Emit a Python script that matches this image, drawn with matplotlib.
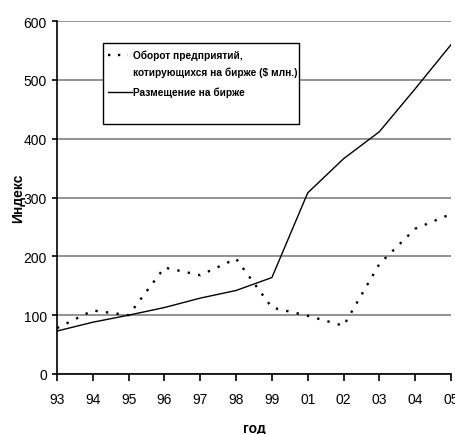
import matplotlib.pyplot as plt
from matplotlib.lines import Line2D
from matplotlib.patches import Rectangle

# Годы и индексы
years = ['93', '94', '95', '96', '97', '98', '99', '01', '02', '03', '04', '05']
turnover = [78, 108, 100, 181, 168, 196, 113, 99, 82, 187, 247, 272]
listing = [73, 88, 100, 113, 129, 142, 164, 308, 366, 412, 485, 560]

label_turnover = 'Оборот предприятий,\nкотирующихся на бирже ($ млн.)'
label_listing = 'Размещение на бирже'

plt.rcParams['font.family'] = ['Liberation Sans', 'DejaVu Sans']

fig = plt.figure(figsize=(4.56, 4.35), dpi=100)
ax = fig.add_axes([0.125, 0.138, 0.864, 0.811])

dotted = (0, (1, 3.5))
x = list(range(len(years)))
ax.plot(x, turnover, color='black', linestyle=dotted, linewidth=1.7, zorder=3)
ax.plot(x, listing, color='black', linestyle='-', linewidth=1.0, zorder=3)

ax.set_xlim(0, len(years) - 1)
ax.set_ylim(0, 600)
ax.set_xticks(x)
ax.set_xticklabels(years, fontsize=10)
ax.set_yticks(range(0, 601, 100))
ax.tick_params(axis='y', labelsize=10, length=3.6, width=1.2, pad=3.6)
ax.tick_params(axis='x', length=5, width=1.2, pad=8)

ax.grid(axis='y', color='#808080', linewidth=1.2)
ax.set_axisbelow(True)
for s in ['top', 'right']:
    ax.spines[s].set_visible(False)
for s in ['left', 'bottom']:
    ax.spines[s].set_linewidth(1.2)

ax.set_xlabel('год', fontsize=10, fontweight='bold', labelpad=10.5)
ax.set_ylabel('Индекс', fontsize=10, fontweight='bold')
ax.yaxis.set_label_coords(-0.08, 0.5)

# легенда в рамке, как в Excel
box = Rectangle((0.117, 0.708), 0.497, 0.230, transform=ax.transAxes,
                facecolor='white', edgecolor='black', linewidth=1, zorder=5)
ax.add_patch(box)
tr = ax.transAxes
ax.add_line(Line2D([0.129, 0.180], [0.904, 0.904], transform=tr, color='black',
                   linestyle=(0, (1, 3.2)), linewidth=1.7, zorder=6))
ax.add_line(Line2D([0.129, 0.190], [0.799, 0.799], transform=tr, color='black',
                   linewidth=1.0, zorder=6))
line1, line2 = label_turnover.split('\n')
ax.text(0.193, 0.904, line1, transform=tr,
        fontsize=7.3, fontweight='bold', va='center', ha='left', zorder=6)
ax.text(0.193, 0.856, line2, transform=tr,
        fontsize=7.3, fontweight='bold', va='center', ha='left', zorder=6)
ax.text(0.193, 0.799, label_listing, transform=tr,
        fontsize=7.3, fontweight='bold', va='center', ha='left', zorder=6)

fig.savefig('out.png', dpi=100)
